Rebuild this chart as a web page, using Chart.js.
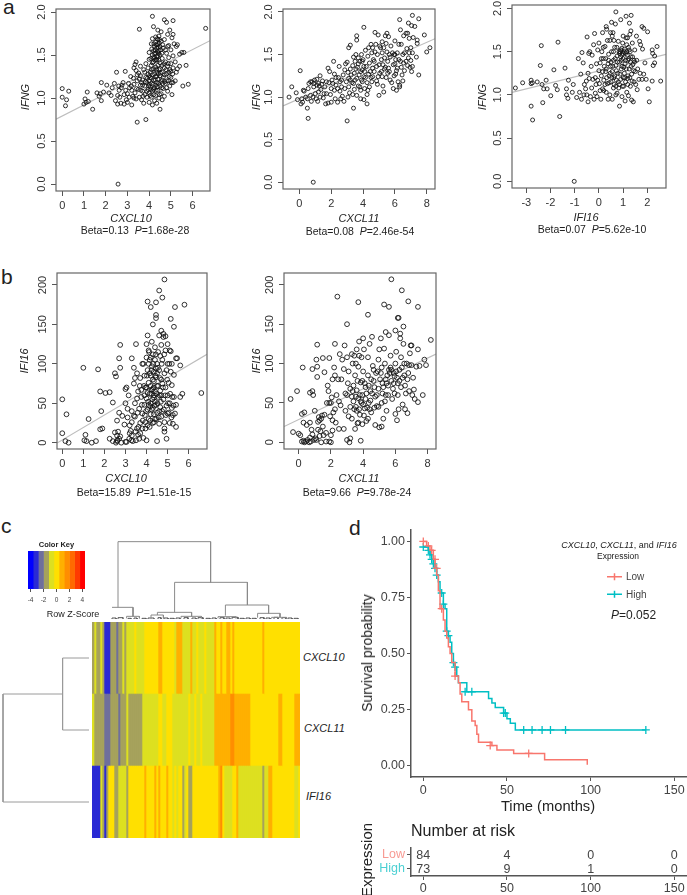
<!DOCTYPE html>
<html>
<head>
<meta charset="utf-8">
<title>CXCL10, CXCL11 and IFI16</title>
<script src="https://cdn.jsdelivr.net/npm/chart.js@4"></script>
<style>
  html, body { margin: 0; padding: 0; background: #fff; }
  #page { position: relative; width: 687px; height: 895px; overflow: hidden; background: #fff; font-family: "Liberation Sans", Arial, sans-serif; color: #222; filter: blur(0.35px); }
  #page canvas { position: absolute; }
  .lbl { position: absolute; white-space: pre; transform: translate(-50%, -50%); line-height: 1; }
  .rot { transform: translate(-50%, -50%) rotate(-90deg); }
  .left { transform: translate(0, -50%); }
</style>
</head>
<body>
<div id="page"></div>
<script>
// Panel a: IFNG against each gene
const ifngCxcl10 = [[0,1.11],[0,1.01],[.2,.98],[.15,.91],[.3,1.08],[1,.93],[1.05,.99],[1.1,.95],[1.15,1.07],[1.2,.96],[1.4,.87],[1.6,1.06],[1.7,1.02],[1.75,1.05],[1.8,.97],[1.8,1.18],[1.9,1.07],[2.05,1.15],[2.15,1.06],[2.25,1.03],[2.4,1.17],[2.45,.97],[2.5,1.3],[2.55,.93],[2.55,1.03],[2.57,0],[2.6,1.14],[2.65,1.01],[2.7,.94],[2.75,1.15],[2.85,.93],[2.9,1.31],[2.85,1.04],[2.8,1.18],[2.95,.98],[3,1.05],[3,.95],[3.05,1.17],[3.1,1.12],[3.2,.92],[3.3,1.35],[3.35,1.39],[3.4,1.42],[3.4,1.32],[3.45,.72],[3.55,1.8],[3.85,.75],[4.15,1.95],[4.7,1.91],[4.8,1.88],[5.1,1.9],[6.6,1.81],[5.55,1.14],[5.8,1.16],[5.7,1.38],[5.5,1.53],[5.6,1.53],[5.4,1.37],[5.4,1.51],
[3.3,1.16],[3.35,1.06],[3.4,.99],[3.45,1.2],[3.5,1.1],[3.55,1.01],[3.6,1.15],[3.6,1.26],[3.65,.98],[3.7,1.08],[3.7,1.21],[3.75,1.33],[3.75,.94],[3.8,1.14],[3.8,1.04],[3.85,1.24],[3.85,1.4],[3.9,1.18],[3.9,1.01],[3.95,1.1],[3.95,1.28],[3.95,1.35],[4,.95],[4,1.06],[4,1.2],[4,1.45],[4,1.53],[4.05,1.13],[4.05,1.3],[4.05,1.24],[4.1,1.01],[4.1,1.38],[4.1,1.63],[4.1,1.17],[4.15,.92],[4.15,1.08],[4.15,1.27],[4.15,1.5],[4.15,1.69],[4.2,1.83],[4.2,1.21],[4.2,1.34],[4.2,1.42],[4.2,1.55],[4.25,.97],[4.25,1.12],[4.25,1.6],[4.25,1.47],[4.3,1.03],[4.3,1.25],[4.3,1.36],[4.3,1.52],[4.3,1.65],[4.3,1.71],[4.35,.94],[4.35,1.18],[4.35,1.44],[4.35,1.58],[4.35,1.3],[4.4,1.09],[4.4,1.22],[4.4,1.49],[4.4,1.62],[4.4,1.68],[4.4,1.79],[4.45,1],[4.45,1.33],[4.45,1.55],[4.45,1.72],[4.5,.87],[4.5,1.14],[4.5,1.26],[4.5,1.41],[4.5,1.6],[4.5,1.5],[4.55,1.05],[4.55,1.19],[4.55,1.66],[4.55,1.77],[4.6,.98],[4.6,1.3],[4.6,1.38],[4.6,1.46],[4.65,1.11],[4.65,1.24],[4.65,1.58],[4.7,1.02],[4.7,1.35],[4.7,1.68],[4.75,1.17],[4.75,1.42],[4.8,1.28],[4.8,1.52],[4.85,1.08],[4.85,1.37],[4.85,1.74],[4.9,1.2],[4.9,1.47],[4.9,1.61],[4.95,1.14],[4.95,1.33],[4.95,1.79],[5,1.24],[5,1.4],[5,1.56],[5.05,1.04],[5.05,1.7],[5.1,1.18],[5.1,1.35],[5.1,1.49],[5.1,1.74],[5.15,1.63],[5.2,1.2],[5.2,1.42],[5.25,1.3],[5.25,1.6],[5.3,1.34],[5.3,1.62],[3.25,1.02],[3.15,1.25],[3.2,1.09],[3.3,1.0],[3.45,1.27],[3.6,1.37],[3.7,1.15],[4,1.16],[4.1,1.23],[4.2,1.1],[4.3,1.15],[4.4,1.38],[4.5,1.34],[4.6,1.21],[4.7,1.27],[4.8,1.12],[4.9,1.3],[5,1.31],[4.25,1.28],[4.15,1.41],[4.35,1.25],[4.45,1.44],[3.9,1.08],[4.05,1.03],[3.8,1.3],[3.65,1.18],[3.55,1.22],[4.28,1.56],[4.33,1.62],[4.38,1.54],[4.42,1.59],[4.27,1.44],[4.36,1.48],[4.46,1.64],[4.22,1.63],
[2.3,1.12],[2.62,1.09],[2.72,1.12],[2.92,1.09],[3.08,1.01],[3.18,1.14],[3.28,1.23],[3.42,1.11],[3.52,1.29],[3.62,1.09],[3.72,1.02],[3.82,1.19],[3.92,1.23],[3.98,1.14],[4.02,1.26],[4.08,1.1],[4.12,1.33],[4.18,1.16],[4.22,1.04],[4.28,1.21],[4.32,1.09],[4.34,1.33],[4.38,1.13],[4.42,1.28],[4.44,1.17],[4.48,1.04],[4.52,1.29],[4.58,1.12],[4.62,1.17],[4.68,1.4],[4.72,1.19],[4.78,1.33],[4.82,1.2],[4.88,1.4],[4.92,1.25],[5.02,1.18],[5.08,1.28],[4.18,1.47],[4.24,1.52],[4.32,1.45],[4.37,1.69],[4.43,1.52],[4.48,1.68],[4.53,1.56],[4.12,1.57],[4.08,1.46],[4.58,1.52],[4.62,1.62],[4.75,1.56],[4.85,1.6]];
const ifngCxcl11 = [[-.65,1],[-.48,1.12],[-.2,1.05],[.05,1.31],[-.12,.97],[.55,.75],[.5,.87],[3,.72],[.87,0],[3.4,.87],[4.25,.92],[4.05,1.82],[3.6,1.72],[3.6,1.67],[3.2,1.61],[3.1,1.58],[6.3,1.91],[7.1,1.96],[7.5,1.92],[6.85,1.87],[7.05,1.84],[7.25,1.83],[7.85,1.73],[8.2,1.58],[8,1.53],[7.5,1.26],[7.05,1.3],[7.35,1.47],[7.1,1.36],[7.4,1.67],[7.4,1.63],
[.1,.92],[.15,.98],[.2,.94],[.25,1.08],[.3,1.07],[.4,1],[.5,.98],[.6,1.16],[.7,1.02],[.7,1.18],[.75,.95],[.8,1.18],[.85,1],[.9,1.12],[.95,1.2],[1,1.04],[1.05,.98],[1.1,1.14],[1.1,1.21],[1.15,.95],[1.2,1.06],[1.25,1.13],[1.3,1.25],[1.35,1.09],[1.4,1.15],[1.5,.99],[1.55,1.04],[1.6,1.12],[1.65,.92],[1.8,.93],[1.85,1.17],[1.8,1.34],[1.9,1.3],[1.95,1.03],[2,1.1],[2,.94],[2.05,1.2],[2.15,1.42],[2.2,1.27],[2.2,1.08],[2.25,.98],[2.3,1.23],[2.3,1.14],[2.4,.94],[2.5,1.36],[2.55,1.18],[2.55,1.07],[2.65,1.12],[2.7,1.01],[2.75,1.26],[2.8,.95],[2.9,1.39],[2.95,1.18],[3,1.41],[3.05,1.29],[3.05,1],[3.15,1.05],[3.2,1.2],[3.2,1.33],[3.3,1.17],[3.35,1.37],[3.4,1.47],[3.45,1.28],[3.45,1.09],[3.5,1.42],[3.55,1.5],[3.6,1.22],[3.6,1.02],[3.65,1.35],[3.7,1.46],[3.7,1.13],[3.75,1.26],[3.8,1.42],[3.85,1.08],[3.85,.98],[3.9,1.5],[3.95,1.18],[3.95,1.32],[4,1.44],[4.05,1.24],[4.05,.97],[4.1,1.1],[4.15,1.55],[4.2,1.36],[4.25,1.03],[4.25,1.17],[4.3,1.48],[4.35,1.58],[4.35,1.27],[4.4,1.4],[4.5,1.62],[4.5,1.23],[4.55,1.52],[4.6,1.34],[4.65,1.44],[4.75,1.76],[4.8,1.62],[4.85,1.19],[4.9,1.5],[4.95,1.73],[5,1.38],[5,1.02],[5.05,1.28],[5.1,1.58],[5.15,1.44],[5.2,1.65],[5.25,1.13],[5.3,1.06],[5.35,1.33],[5.4,1.72],[5.45,1.23],[5.5,1.53],[5.55,1.42],[5.6,1.71],[5.65,1.3],[5.75,1.6],[5.8,1.17],[5.9,1.1],[5.95,1.5],[6,1.39],[6,1.66],[6.05,1.27],[6.15,1.52],[6.2,1.18],[6.25,1.44],[6.3,1.12],[6.35,1.79],[6.4,1.35],[6.4,1.62],[6.5,1.19],[6.5,1.5],[6.55,1.72],[6.6,1.31],[6.7,1.42],[6.75,1.57],[6.8,1.75],[6.85,1.46],[6.9,1.69],[6.95,1.35],[7,1.58],[7.1,1.52],[7.15,1.7],[6.1,1.08],[6.3,1.14],[5.5,1.75],[5.2,1.52],[4.7,1.3],[4.4,1.12],[3.1,1.22],[2.85,1.1],[2.1,1.16],[1.7,1.18],[1.3,1],[4.9,1.15],[5.7,1.47],[5.9,1.38],[6.1,1.31],[3.9,1.2],[4.1,1.3],[4.6,1.24],[5.2,1.24],[5.4,1.35],[5.6,1.34],[6,1.5],[3.7,1.39],[3.4,1.16],[2.6,.98],[2.4,1.1],
[.55,1.1],[.9,1.16],[1.2,1.16],[1.45,1.19],[1.7,1.04],[2.45,1.23],[2.65,1.2],[2.85,1.32],[3.1,1.12],[3.25,1.26],[3.35,1.03],[3.5,1.2],[3.55,1.33],[3.8,1.12],[3.85,1.3],[3.95,1.42],[4.05,1.36],[4.15,1.23],[4.3,1.08],[4.45,1.3],[4.55,1.18],[4.6,1.58],[4.7,1.42],[4.75,1.53],[4.85,1.36],[4.95,1.24],[5.05,1.6],[5.15,1.3],[5.25,1.38],[5.3,1.58],[5.35,1.46],[5.45,1.63],[5.55,1.28],[5.65,1.5],[5.7,1.2],[5.85,1.52],[5.95,1.25],[6.05,1.44],[6.15,1.34],[6.25,1.62],[6.35,1.42],[6.45,1.26],[6.55,1.4],[6.6,1.52],[6.7,1.75],[6.8,1.37],[6.9,1.52],[7,1.43]];
const ifngIfi16 = [[-3.45,1.08],[-3.15,1.14],[-2.8,1.17],[-2.8,1.13],[-2.75,1.14],[-2.55,1.15],[-2.8,.87],[-2.74,.71],[-2.32,.91],[-2.38,1.57],[-2.42,1.34],[-1.69,1.61],[-1.86,1.29],[-1.4,1.31],[-1.62,.75],[-1.02,0],[-1.79,1.11],[-1.72,1.06],[-1.99,.99],[-2.18,1.17],[-2.14,1.07],[-2.28,1.07],[-2.35,1.12],[-1.26,1.17],[-1.34,1.07],[-1.06,1.12],[-1.34,1],[-1.28,.96],[-1.1,1.03],[-.92,.97],[-.49,1.67],[-.18,1.71],[.7,1.96],[1.12,1.91],[1.33,1.92],[.9,1.87],[1.26,1.83],[1.78,1.79],[1.85,1.77],[2.01,1.73],[2.4,1.56],[2.55,1.16],[2.2,1.16],[2.08,.92],[2.03,1.07],[2.3,1.37],[2.24,1.34],[2.2,1.52],[2.22,1.48],[2.3,1.45],
[-.85,1.42],[-.8,1.03],[-.75,1.24],[-.72,.95],[-.7,1.49],[-.65,1.37],[-.6,1.12],[-.55,1.07],[-.5,1],[-.45,.92],[-.45,1.25],[-.42,1.48],[-.4,1.19],[-.38,1.5],[-.32,1.33],[-.3,1.08],[-.28,1.46],[-.22,1.58],[-.2,.95],[-.15,1.2],[-.12,1.12],[-.1,1.36],[-.08,.98],[-.05,1.52],[0,1.6],[0,1.28],[.02,1.13],[.05,1.37],[.08,.95],[.1,1.22],[.12,1.5],[.15,1.72],[.15,1.07],[.18,1.42],[.2,1.17],[.22,1.33],[.25,1.56],[.28,1.27],[.3,1.03],[.32,1.76],[.3,1.79],[.35,1.13],[.35,1.63],[.38,.95],[.4,1.4],[.42,1.22],[.45,1],[.45,1.63],[.48,1.33],[.5,1.15],[.52,1.5],[.52,1.84],[.55,.95],[.55,1.27],[.58,1.72],[.6,1.4],[.6,1.08],[.62,1.2],[.65,1.55],[.68,1.82],[.7,1],[.7,1.34],[.72,1.17],[.75,1.45],[.78,1.25],[.8,1.62],[.82,1.08],[.85,1.38],[.85,.87],[.88,1.5],[.9,1.18],[.92,1.3],[.95,.98],[.95,1.54],[.98,1.6],[1,1.68],[1,1.42],[1.02,1.1],[1.05,1.25],[1.08,1.36],[1.08,.93],[1.1,1.48],[1.12,1.66],[1.15,1.03],[1.15,1.58],[1.18,1.19],[1.2,1.4],[1.22,.99],[1.25,1.3],[1.25,1.52],[1.28,1.7],[1.3,1.1],[1.32,1.44],[1.35,.94],[1.35,1.24],[1.38,1.6],[1.4,1.35],[1.42,.92],[1.45,1.15],[1.48,1.52],[1.5,1.27],[1.55,1.68],[1.58,1.06],[1.6,1.3],[1.65,1.18],[1.68,1.62],[1.7,1.25],[1.72,1.58],[1.78,1.18],[1.8,1.53],[1.85,1.24],[1.9,1.37],[1.95,1.18],[.5,1.38],[.7,1.1],[.3,1.3],[.1,1.42],[1.1,1.15],[1.3,1.38],[.9,1.44],[.65,1.22],[1.05,1.5],[.4,1.47],[.2,1.05],[-.05,1.17],[.85,1.12],[1.2,1.22],[.6,1.5],[1,1.2],[.95,1.33],[.75,1.02],[1.45,1.4],[-.25,1.18],[-.52,1.16],[-.62,1.0],[-.35,.98],
[.15,1.27],[.25,1.12],[.32,1.2],[.38,1.36],[.42,1.14],[.47,1.25],[.53,1.2],[.57,1.33],[.63,1.12],[.67,1.42],[.72,1.28],[.77,1.38],[.8,1.15],[.83,1.5],[.87,1.24],[.93,1.4],[.97,1.1],[.99,1.48],[1.03,1.32],[1.07,1.2],[1.1,1.4],[1.13,1.3],[1.17,1.46],[1.19,1.12],[1.23,1.42],[1.27,1.2],[1.29,1.5],[1.33,1.33],[1.37,1.16],[1.39,1.44],[1.43,1.28],[1.47,1.38],[1.52,1.12],[1.56,1.4],[.9,1.52],[.85,1.48],[.95,1.46],[1.05,1.53],[1.15,1.5],[1.22,1.55],[.62,1.63],[.74,1.55],[.48,1.72],[.55,1.68],[1.32,1.74],[1.18,1.66],[.05,1.05],[-.15,1.02],[.28,1.42],[.18,1.55]];

// Panel b: IFI16 against CXCL10 / CXCL11
const ifi16Cxcl10 = [[0,55],[0,12],[.2,36],[.15,2],[.3,0],[1,95],[1.05,3],[1.1,10],[1.15,2],[1.25,30],[1.4,0],[1.6,2],[1.7,93],[1.8,65],[1.85,40],[1.8,17],[1.9,18],[2.05,63],[2.25,5],[2.25,64],[2.4,2],[2.4,51],[2.5,88],[2.55,84],[2.6,28],[2.55,0],[2.6,9],[2.65,14],[2.7,38],[2.7,107],[2.75,124],[2.75,95],[2.8,0],[3,68],[3,50],[3.05,70],[3.15,60],[3.5,125],[3.3,107],[3.4,95],[4.05,179],[4.2,172],[4.45,178],[4.6,193],[4.75,184],[4.85,207],[4.7,142],[4.45,162],[4.45,158],[4.3,150],[4.05,136],[5.35,172],[5.8,175],[5.15,157],[5.3,147],[5,125],[6.6,63],[5.7,62],[5.6,58],[5.6,98],[5.45,107],[5.4,20],
[2.5,13],[2.6,2],[2.7,5],[2.85,34],[2.95,23],[3,1],[3.05,1],[3.1,32],[3.1,43],[3.2,22],[3.2,12],[3.25,15],[3.3,9],[3.3,26],[3.35,2],[3.4,75],[3.45,50],[3.45,33],[3.45,82],[3.5,3],[3.55,88],[3.55,18],[3.6,65],[3.6,10],[3.65,5],[3.65,43],[3.7,25],[3.7,82],[3.75,67],[3.75,58],[3.8,18],[3.8,37],[3.85,6],[3.85,100],[3.9,85],[3.9,48],[3.95,26],[3.95,70],[4,108],[4,125],[4,3],[4,56],[4.05,42],[4.05,92],[4.1,30],[4.1,76],[4.1,117],[4.15,62],[4.15,105],[4.15,20],[4.2,50],[4.2,85],[4.2,36],[4.25,128],[4.25,97],[4.25,67],[4.3,25],[4.3,44],[4.3,112],[4.35,78],[4.35,57],[4.35,90],[4.4,30],[4.4,65],[4.4,105],[4.4,121],[4.45,48],[4.45,83],[4.5,2],[4.5,38],[4.5,72],[4.5,100],[4.55,58],[4.55,115],[4.6,24],[4.6,92],[4.6,136],[4.65,45],[4.65,66],[4.7,80],[4.7,124],[4.7,33],[4.75,105],[4.8,55],[4.8,134],[4.85,26],[4.85,14],[4.85,18],[4.85,88],[4.9,70],[4.9,117],[4.95,5],[4.95,47],[5,100],[5,37],[5,60],[5.05,76],[5.1,50],[5.1,25],[5.1,117],[5.15,90],[5.2,73],[5.2,44],[5.25,35],[5.25,24],[5.3,86],[5.3,58],[5.35,37],[5.4,107],[5.4,48],[5.2,100],[5.15,116],[4.9,135],[4.8,138],[3.55,56],[3.8,100],[4.1,100],[4.3,68],[4.2,72],[4.35,60],[4.25,42],[4.4,52],[4.5,88],[4.15,88],[4,70],[4.6,40],[4.7,60],[4.65,110],[4.45,94],[4.3,80],[4.1,48],[3.9,60],[4.2,108],[4.05,63],[4.35,36],[4.55,72],[4.75,75],[4.95,92],[5.05,38],[3.7,12],[3.95,18],[3.4,34],[3.3,40],
[3.62,20],[3.82,28],[3.88,72],[3.98,40],[4.02,85],[4.08,52],[4.12,115],[4.18,28],[4.22,62],[4.24,92],[4.28,55],[4.32,100],[4.34,70],[4.38,47],[4.42,85],[4.44,112],[4.46,30],[4.48,62],[4.52,50],[4.54,95],[4.58,32],[4.62,60],[4.64,82],[4.68,52],[4.72,100],[4.74,40],[4.78,70],[4.82,42],[4.84,112],[4.88,60],[4.92,35],[4.98,80],[5.02,50],[5.08,100],[5.12,62],[5.18,32],[5.22,58],[5.28,47],[3.68,72],[3.78,48],[3.92,35],[4.05,22],[4.18,46],[4.35,26],[3.58,38],[3.48,14],[3.18,5],[3.28,3],[2.75,8],[2.62,3]];
const ifi16Cxcl11 = [[-.5,55],[-.1,65],[-.35,13],[0,11],[.1,9],[.2,36],[.25,95],[.3,25],[.35,38],[.5,22],[.7,63],[.85,65],[.9,60],[.85,93],[1.1,105],[1.15,96],[1.15,83],[1.15,124],[1.5,107],[1.9,107],[2.4,185],[3.7,178],[4.3,162],[3,150],[5.3,175],[5.6,172],[5.75,207],[6.4,193],[6.8,179],[7.4,172],[6.2,158],[6.15,158],[5.4,140],[5.6,136],[6,142],[6.5,147],[6.3,138],[7,123],[8.2,130],[7.9,98],[7.8,105],[7.4,118],[7.3,96],[7.5,97],[7.4,51],[7.7,60],
[.2,1],[.3,2],[.35,0],[.45,1],[.55,3],[.65,0],[.7,6],[.75,1],[.8,16],[.85,10],[.95,3],[1,40],[1.05,5],[1.1,3],[1.2,26],[1.25,32],[1.3,8],[1.35,14],[1.4,0],[1.45,34],[1.5,20],[1.55,9],[1.6,89],[1.7,1],[1.75,50],[1.8,72],[1.85,65],[1.9,1],[2,0],[2,9],[2,50],[2.05,57],[2.1,28],[2.1,15],[2.15,38],[2.2,95],[2.25,85],[2.25,125],[2.35,60],[2.45,80],[2.5,17],[2.55,112],[2.6,47],[2.7,105],[2.8,17],[2.8,93],[2.85,123],[2.9,40],[3,3],[3,60],[3,108],[3.05,75],[3.1,33],[3.15,0],[3.2,5],[3.2,68],[3.3,30],[3.35,100],[3.4,52],[3.45,110],[3.5,85],[3.55,45],[3.6,118],[3.6,66],[3.65,24],[3.7,96],[3.7,56],[3.75,128],[3.8,35],[3.85,2],[3.85,76],[3.9,108],[3.95,23],[3.95,60],[4,132],[4,90],[4.1,43],[4.15,70],[4.2,27],[4.3,108],[4.3,85],[4.35,50],[4.4,125],[4.45,65],[4.5,38],[4.55,134],[4.6,97],[4.65,78],[4.7,44],[4.75,22],[4.85,60],[4.9,90],[4.95,105],[5,118],[5,19],[5.1,132],[5.15,20],[5.15,50],[5.2,75],[5.25,30],[5.3,119],[5.35,100],[5.4,60],[5.45,40],[5.5,85],[5.55,72],[5.6,92],[5.7,110],[5.75,78],[5.8,55],[5.9,88],[5.95,62],[6,100],[6,36],[6.05,115],[6.1,28],[6.15,75],[6.2,42],[6.25,92],[6.3,132],[6.35,108],[6.45,48],[6.5,125],[6.55,85],[6.6,42],[6.7,100],[6.75,37],[6.8,88],[6.85,65],[6.95,123],[7,98],[7.05,60],[7.1,82],[7.15,67],[7.2,55],[6.9,113],[6.6,72],[3.6,40],[3.8,60],[4,48],[4.2,62],[4.5,80],[4.4,42],[3.4,72],[3.2,45],[4.7,70],[5.1,88],[5.2,62],[5.4,80],[5.9,75],[3.9,50],[3.3,58],[3.7,25],[4.1,75],[4.3,30],[4.8,88],[2.3,25],[1.9,50],[1.6,35],[1.3,28],[.7,25],[5.7,95],[6.1,82],[6.4,95],[4.95,45],[3.5,17],
[3.35,65],[3.45,42],[3.55,58],[3.65,78],[3.75,42],[3.85,52],[3.95,78],[4.05,34],[4.15,55],[4.25,44],[4.35,72],[4.45,53],[4.55,62],[4.65,92],[4.75,58],[4.85,46],[4.95,68],[5.05,80],[5.15,95],[5.25,70],[5.35,52],[5.45,75],[5.55,60],[5.65,88],[5.75,92],[5.85,68],[5.95,84],[6.05,90],[6.15,60],[6.25,78],[6.35,70],[6.45,82],[6.55,100],[6.65,62],[6.75,80],[6.85,98],[2.9,62],[2.65,80],[2.5,52],[2.25,42],[2.1,80],[1.95,33],[1.7,12],[1.4,30],[1.2,16],[3.1,90],[3.3,112],[3.55,100],[3.75,110],[4.05,118]];

const ticksCxcl10 = [0, 1, 2, 3, 4, 5, 6];
const ticksCxcl11 = [0, 2, 4, 6, 8];
const ticksIfi16 = [-3, -2, -1, 0, 1, 2];
const ticksIfng = [0, 0.5, 1, 1.5, 2];
const ticksIfi16Y = [0, 50, 100, 150, 200];

// regression lines, value at each end of the x range
const fitA1 = [[-0.286, 0.754], [6.8, 1.667]];
const fitA2 = [[-1.03, 0.896], [8.52, 1.686]];
const fitA3 = [[-3.59, 1.03], [2.77, 1.468]];
const fitB1 = [[-0.25, -0.5], [6.87, 112]];
const fitB2 = [[-0.91, 20], [8.52, 112]];

// Panel c: z-scores per sample column
const geneRows = ['CXCL10', 'CXCL11', 'IFI16'];
const zCxcl10 = [-1.6,-0.8,-1.6,-1.6,-0.8,-1.6,-3.2,-3.2,-3.2,-1.6,
  -1.6,-1.6,-2.4,-1.6,-1.6,-0.8,-1.6,-0.8,-0.8,-0.8,
  -0.8,0,-0.8,-0.8,-0.8,-0.8,0,0,0,0,
  0,0,0,0.8,0.8,0,0,0,0,0,
  0,-0.8,0.8,0.8,0.8,-0.8,-0.8,-0.8,-0.8,0.8,
  -0.8,-0.8,0,-0.8,-0.8,-0.8,0,-0.8,-0.8,-0.8,
  -0.8,0.8,0,0,0.8,0,0,0.8,0.8,0,
  0.8,0,0,0,0,0,0,0,0,0,
  0,0,0,0,0,0.8,0,0,0,0,
  0,0,0,0,0,0,0,0,0,0,
  0,0,0,0];
const zCxcl11 = [-0.8,-1.6,-1.6,-1.6,-1.6,-1.6,-2.4,-2.4,-2.4,-1.6,
  -1.6,-1.6,-1.6,-2.4,-1.6,-1.6,-1.6,-0.8,-1.6,-1.6,
  -1.6,-1.6,-1.6,-1.6,-1.6,-0.8,-0.8,-0.8,-0.8,-0.8,
  -0.8,-0.8,-0.8,0,0,-0.8,-0.8,0,0,0,
  -0.8,-0.8,-0.8,-0.8,-0.8,-0.8,-0.8,-0.8,0,-0.8,
  -0.8,0,-0.8,-0.8,0,-0.8,-0.8,-0.8,-0.8,-0.8,
  -0.8,0.8,0.8,0.8,0.8,0.8,0.8,0.8,0.8,1.6,
  1.6,0.8,0.8,0.8,0.8,0.8,0.8,0.8,0.8,0,
  0,0,0,0,0,0,0,0,0,0,
  0,0,0,0.8,0.8,0,0,0,0,0,
  0,0.8,0.8,0.8];
const zIfi16 = [-3.2,-3.2,-3.2,-3.2,-0.8,-1.6,-3.2,-1.6,0,0,
  0,-1.6,-1.6,-0.8,-0.8,-0.8,-0.8,-1.6,0,0,
  0,0,0,0,0,0,0.8,0,0,0,
  0,0.8,0,0.8,0,0,0,0.8,0,0,
  -0.8,0,-0.8,0,0,-1.6,-0.8,0,-1.6,-1.6,
  0,0,0,0,0,0,0,0,0,0,
  0,0,0,0.8,1.6,0,-0.8,-0.8,-0.8,-0.8,
  0,0,0.8,-0.8,-0.8,-0.8,-0.8,-0.8,-0.8,-0.8,
  -0.8,-0.8,-0.8,-0.8,-0.8,-1.6,-0.8,-0.8,0.8,0.8,
  0,0,0,0,0,0,0,0,0,0,
  0,-0.8,-0.8,0];

const keyBreaks = [-4.4, -3.6, -2.8, -2, -1.2, -0.4, 0.4, 1.2, 2, 2.8, 3.6, 4.4];
const keyColors = ['#0000ff', '#2a2ad4', '#6f6f9c', '#a6a25c', '#dde020', '#ffe000', '#ffb000', '#ff8e00', '#ff6a00', '#ff3a00', '#ff0000'];
const keyTicks = [-4, -2, 0, 2, 4];

// dendrograms: [left leaf, right leaf, bar height, left foot, right foot]
const treeTop = [[13,59.3,232,35,110],[10,20.5,35,35,8],[41.3,77.7,110,20,42],[32.7,49.8,20,12,8],[66.7,88.3,42,10,17],[82.8,94,17,4,6],
  [29.5,35.7,12,1,2],[44.5,54.7,8,2,2],[17.3,23.7,8,2,2],[63,72,7,2,2],[89.8,97.3,5,1,2],
  [10,12,3,0,0],[13,15.5,4,0,1],[18,19.5,2,0,0],[21,22.5,3,0,0],[25,27,2,0,0],[28,31,3,0,1],[33,34.5,4,0,0],[36,38,3,0,0],[39,41,2,0,0],[42,44,3,0,0],[46,48,4,0,0],[50,52,3,0,0],[53,55.5,4,0,0],[57,59,2,0,0],[60,62,3,0,0],[64,66,4,0,0],[67,69,3,0,1],[70,73,5,0,0],[74,76,2,0,0],[77,79,3,0,0],[80,82,2,0,0],[84,86,4,0,0],[87,89,3,0,0],[91,93,5,0,0],[95,97,4,0,0],[98,100,3,0,0],[101,103,2,0,0]];
const treeLeft = [[0.5,1.5,26.4,0,0],[1,2.5,86,26.4,0]];

// Panel d: survival curves
const kmLow = [[0,1],[2,.98],[4,.96],[6,.92],[7,.88],[8,.85],[9,.78],[10,.7],[12,.65],[13,.6],[14,.57],[15,.53],[16,.5],[17,.46],[19,.4],[21,.37],[22,.32],[23,.285],[27,.25],[29,.2],[31,.18],[32,.14],[33,.105],[41,.09],[44,.07],[54,.055],[72.5,.027],[98,.005]];
const kmHigh = [[0,.975],[3,.96],[4,.94],[5,.92],[6,.9],[7,.88],[8,.85],[9,.82],[10,.77],[12,.72],[13,.7],[14,.6],[15,.58],[16,.55],[17,.5],[18,.46],[19,.44],[20,.4],[21,.37],[26,.33],[39,.3],[41,.28],[43,.26],[48,.235],[50,.21],[52,.19],[55,.16],[133,.16]];
const censorLow = [[0,1],[3,.98],[5,.96],[7,.92],[8,.88],[11,.7],[19,.4],[40,.09],[63,.055]];
const censorHigh = [[0,.975],[3,.96],[4,.94],[5,.92],[6,.9],[7,.88],[8,.85],[11,.77],[12,.72],[14,.6],[15,.58],[18,.46],[19,.44],[25,.33],[29,.33],[48,.235],[49,.235],[60,.16],[65,.16],[71,.16],[76,.16],[85,.16],[133,.16]];
const kmXTicks = [0, 50, 100, 150];
const kmYTicks = [0, 0.25, 0.5, 0.75, 1];
const riskGroups = ['Low', 'High'];
const riskLow = [84, 4, 0, 0];
const riskHigh = [73, 9, 1, 0];

const LOW = '#F8766D', HIGH = '#00BFC4';
Chart.defaults.font.family = '"Liberation Sans", Arial, sans-serif';
Chart.defaults.animation = false;
Chart.defaults.responsive = false;
Chart.defaults.plugins.legend.display = false;
Chart.defaults.plugins.tooltip.enabled = false;

const page = document.getElementById('page');

function addCanvas(left, top, w, h) {
    const c = document.createElement('canvas');
    c.width = w; c.height = h;
    c.style.left = left + 'px';
    c.style.top = top + 'px';
    page.appendChild(c);
    return c.getContext('2d');
}

function label(html, x, y, size, extra) {
    const d = document.createElement('div');
    d.className = 'lbl' + (extra && extra.cls ? ' ' + extra.cls : '');
    d.innerHTML = html;
    d.style.left = x + 'px';
    d.style.top = y + 'px';
    d.style.fontSize = size + 'px';
    if (extra && extra.color) d.style.color = extra.color;
    if (extra && extra.weight) d.style.fontWeight = extra.weight;
    page.appendChild(d);
}

const pts = arr => arr.map(p => ({ x: p[0], y: p[1] }));

// R style frame with rotated y labels
const baseFrame = {
    id: 'baseFrame',
    afterDraw(chart, args, opts) {
        const a = chart.chartArea, ctx = chart.ctx, y = chart.scales.y;
        ctx.save();
        ctx.strokeStyle = '#666';
        ctx.lineWidth = 1.2;
        ctx.strokeRect(a.left, a.top, a.right - a.left, a.bottom - a.top);
        ctx.fillStyle = '#333';
        ctx.font = '11px "Liberation Sans"';
        ctx.textAlign = 'center';
        ctx.textBaseline = 'middle';
        opts.labels.forEach(v => {
            ctx.save();
            ctx.translate(a.left - 14, y.getPixelForValue(v));
            ctx.rotate(-Math.PI / 2);
            ctx.fillText(opts.fmt(v), 0, 0);
            ctx.restore();
        });
        ctx.restore();
    }
};

function scatterPanel(box, xr, yr, xTicks, yTicks, fmt, data, fit, radius) {
    const padL = 40, padT = 8, padR = 8, padB = 24;
    const w = Math.round(box.r - box.l) + padL + padR;
    const h = Math.round(box.b - box.t) + padT + padB;
    const ctx = addCanvas(Math.round(box.l) - padL, Math.round(box.t) - padT, w, h);
    const tickGrid = { display: true, drawOnChartArea: false, drawTicks: true, tickLength: 5, color: '#555' };
    new Chart(ctx, {
        type: 'scatter',
        data: {
            datasets: [
                { data: pts(fit), type: 'line', borderColor: '#bdbdbd', borderWidth: 1.2, pointRadius: 0, order: 2 },
                { data: pts(data), pointRadius: radius, pointBackgroundColor: 'rgba(0,0,0,0)', pointBorderColor: 'rgba(15,15,15,0.85)', pointBorderWidth: 1, order: 1 }
            ]
        },
        options: {
            layout: { autoPadding: false, padding: { top: padT, right: padR, left: 0, bottom: 0 } },
            scales: {
                x: {
                    type: 'linear', min: xr[0], max: xr[1],
                    afterBuildTicks: s => { s.ticks = xTicks.map(v => ({ value: v })); },
                    afterFit: s => { s.height = padB; },
                    grid: tickGrid, border: { display: false },
                    ticks: { font: { size: 11 }, color: '#333', padding: 3, maxRotation: 0, callback: v => String(v) }
                },
                y: {
                    type: 'linear', min: yr[0], max: yr[1],
                    afterBuildTicks: s => { s.ticks = yTicks.map(v => ({ value: v })); },
                    afterFit: s => { s.width = padL; },
                    grid: tickGrid, border: { display: false },
                    ticks: { display: false }
                }
            },
            plugins: { baseFrame: { labels: yTicks, fmt: fmt } }
        },
        plugins: [baseFrame]
    });
}

const fmtIfng = v => v.toFixed(1);
const fmtIfi = v => String(v);

scatterPanel({ l: 55.5, r: 209, t: 9, b: 190.7 }, [-0.286, 6.8], [-0.08, 2.035], ticksCxcl10, ticksIfng, fmtIfng, ifngCxcl10, fitA1, 2);
scatterPanel({ l: 283.3, r: 435.3, t: 9, b: 189.3 }, [-1.03, 8.52], [-0.08, 2.035], ticksCxcl11, ticksIfng, fmtIfng, ifngCxcl11, fitA2, 2);
scatterPanel({ l: 511.7, r: 665.7, t: 5.3, b: 188.3 }, [-3.59, 2.77], [-0.077, 2.04], ticksIfi16, ticksIfng, fmtIfng, ifngIfi16, fitA3, 2);
scatterPanel({ l: 57, r: 207.3, t: 273.3, b: 449.3 }, [-0.25, 6.87], [-8, 215.2], ticksCxcl10, ticksIfi16Y, fmtIfi, ifi16Cxcl10, fitB1, 2.4);
scatterPanel({ l: 284.3, r: 436.3, t: 273.3, b: 449 }, [-0.91, 8.52], [-8.5, 215], ticksCxcl11, ticksIfi16Y, fmtIfi, ifi16Cxcl11, fitB2, 2.4);

label('a', 3, 6, 21, { cls: 'left' });
label('b', 1, 276, 21, { cls: 'left' });
label('c', 1, 525, 21, { cls: 'left' });
label('d', 349, 527, 21, { cls: 'left' });

label('<i>IFNG</i>', 25, 97, 11, { cls: 'rot' });
label('<i>CXCL10</i>', 131, 218, 11);
label('Beta=0.13  <i>P</i>=1.68e-28', 135, 230, 10.5);
label('<i>IFNG</i>', 256, 97, 11, { cls: 'rot' });
label('<i>CXCL11</i>', 359, 218, 11);
label('Beta=0.08  <i>P</i>=2.46e-54', 360, 231, 10.5);
label('<i>IFNG</i>', 482, 97, 11, { cls: 'rot' });
label('<i>IFI16</i>', 586, 217, 11);
label('Beta=0.07  <i>P</i>=5.62e-10', 592, 229, 10.5);
label('<i>IFI16</i>', 24, 361, 11, { cls: 'rot' });
label('<i>CXCL10</i>', 126, 478, 11);
label('Beta=15.89  <i>P</i>=1.51e-15', 134, 492, 10.5);
label('<i>IFI16</i>', 256, 361, 11, { cls: 'rot' });
label('<i>CXCL11</i>', 359, 478, 11);
label('Beta=9.66  <i>P</i>=9.78e-24', 357, 492, 10.5);

// heat map, one stacked bar per sample column
const palette = z => {
    for (let i = 0; i < keyColors.length; i++) {
        if (z < keyBreaks[i + 1]) return keyColors[i];
    }
    return keyColors[keyColors.length - 1];
};
const heatSets = zCxcl10.map((z, i) => ({
    data: geneRows.map(() => 1),
    backgroundColor: [palette(zCxcl10[i]), palette(zCxcl11[i]), palette(zIfi16[i])],
    borderWidth: 0,
    barPercentage: 1,
    categoryPercentage: 1,
    inflateAmount: 0.3
}));
new Chart(addCanvas(92, 622, 208, 216), {
    type: 'bar',
    data: { labels: geneRows, datasets: heatSets },
    options: {
        indexAxis: 'y',
        layout: { autoPadding: false },
        scales: {
            x: { stacked: true, display: false, min: 0, max: zCxcl10.length },
            y: { stacked: true, display: false }
        }
    }
});
label('<i>CXCL10</i>', 303, 657, 11, { cls: 'left' });
label('<i>CXCL11</i>', 304, 728, 11, { cls: 'left' });
label('<i>IFI16</i>', 306, 796, 11, { cls: 'left' });

// column dendrogram on top
const bracketSets = (tree, flip, col) => tree.map(t => {
    const line = [[t[0], t[3]], [t[0], t[2]], [t[1], t[2]], [t[1], t[4]]];
    return {
        data: line.map(p => flip ? { x: p[1], y: p[0] } : { x: p[0], y: p[1] }),
        borderColor: col,
        borderWidth: 1,
        pointRadius: 0
    };
});
const treeOpts = (xr, yr) => ({
    layout: { autoPadding: false },
    scales: {
        x: { type: 'linear', display: false, min: xr[0], max: xr[1], reverse: xr[2] },
        y: { type: 'linear', display: false, min: yr[0], max: yr[1], reverse: yr[2] }
    }
});
const topSets = bracketSets(treeTop, false, '#8a8a8a');
topSets.forEach((s, i) => { if (i > 10) s.borderColor = '#555'; });
new Chart(addCanvas(92, 535, 208, 84), {
    type: 'scatter',
    data: { datasets: topSets.map(s => Object.assign(s, { showLine: true })) },
    options: treeOpts([0, 104], [0, 252])
});
new Chart(addCanvas(0, 622, 89, 216), {
    type: 'scatter',
    data: { datasets: bracketSets(treeLeft, true, '#9a9a9a').map(s => Object.assign(s, { showLine: true })) },
    options: treeOpts([0, 89, true], [0, 3, true])
});

// colour key
const keySets = keyColors.map((c, i) => ({
    data: [[keyBreaks[i], keyBreaks[i + 1]]],
    backgroundColor: c,
    borderWidth: 0,
    grouped: false,
    barPercentage: 1,
    categoryPercentage: 1,
    inflateAmount: 0.3
}));
new Chart(addCanvas(18, 551, 78, 57), {
    type: 'bar',
    data: { labels: ['z'], datasets: keySets },
    options: {
        indexAxis: 'y',
        layout: { autoPadding: false, padding: { left: 10, right: 11, top: 0, bottom: 0 } },
        scales: {
            x: {
                type: 'linear', min: -4.4, max: 4.4,
                afterBuildTicks: s => { s.ticks = keyTicks.map(v => ({ value: v })); },
                afterFit: s => { s.height = 19; },
                grid: { display: true, drawOnChartArea: false, tickLength: 3, color: '#555' },
                border: { display: false },
                ticks: { font: { size: 6.5 }, color: '#444', padding: 4, maxRotation: 0 }
            },
            y: { display: false }
        }
    }
});
label('Color Key', 56.5, 545, 7.5, { weight: 'bold' });
label('Row Z-Score', 73, 614, 9);

// survival curves
const kmLegend = {
    id: 'kmLegend',
    afterDraw(chart) {
        const ctx = chart.ctx;
        [[LOW, 56.7], [HIGH, 74.3]].forEach(e => {
            ctx.save();
            ctx.strokeStyle = e[0];
            ctx.lineWidth = 1.5;
            ctx.beginPath();
            ctx.moveTo(257, e[1]); ctx.lineTo(272, e[1]);
            ctx.moveTo(264.5, e[1] - 3.5); ctx.lineTo(264.5, e[1] + 3.5);
            ctx.stroke();
            ctx.restore();
        });
    }
};
const axisGrid = { display: true, drawOnChartArea: false, tickLength: 4, color: '#555' };
new Chart(addCanvas(350, 520, 337, 280), {
    type: 'scatter',
    data: {
        datasets: [
            { data: pts(kmLow), showLine: true, stepped: true, borderColor: LOW, borderWidth: 1.5, pointRadius: 0 },
            { data: pts(kmHigh), showLine: true, stepped: true, borderColor: HIGH, borderWidth: 1.5, pointRadius: 0 },
            { data: pts(censorLow), pointStyle: 'cross', pointRadius: 4, pointBorderColor: LOW, pointBorderWidth: 1.3 },
            { data: pts(censorHigh), pointStyle: 'cross', pointRadius: 4, pointBorderColor: HIGH, pointBorderWidth: 1.3 }
        ]
    },
    options: {
        layout: { autoPadding: false, padding: { top: 8, right: 1, left: 0, bottom: 0 } },
        scales: {
            x: {
                type: 'linear', min: -7.35, max: 157,
                afterBuildTicks: s => { s.ticks = kmXTicks.map(v => ({ value: v })); },
                afterFit: s => { s.height = 23; },
                grid: axisGrid, border: { display: true, color: '#555', width: 1.5 },
                ticks: { font: { size: 12.5 }, color: '#444', padding: 2, maxRotation: 0, callback: v => String(v) }
            },
            y: {
                type: 'linear', min: -0.05, max: 1.053,
                afterBuildTicks: s => { s.ticks = kmYTicks.map(v => ({ value: v })); },
                afterFit: s => { s.width = 61; },
                grid: axisGrid, border: { display: true, color: '#555', width: 1.5 },
                ticks: { font: { size: 12.5 }, color: '#444', padding: 2, callback: v => v.toFixed(2) }
            }
        }
    },
    plugins: [kmLegend]
});
label('Survival probability', 367, 653, 14, { cls: 'rot' });
label('Time (months)', 548, 806, 14.7);
label('<i>CXCL10</i>, <i>CXCL11</i>, and <i>IFI16</i>', 619, 545, 9);
label('Expression', 618, 556, 8.5);
label('Low', 626, 577, 10, { cls: 'left', color: '#444' });
label('High', 626, 594.5, 10, { cls: 'left', color: '#444' });
label('<i>P</i>=0.052', 611, 615, 12, { cls: 'left' });

// number at risk table
const riskText = {
    id: 'riskText',
    afterDraw(chart) {
        const ctx = chart.ctx, x = chart.scales.x, y = chart.scales.y;
        ctx.save();
        ctx.font = '12.5px "Liberation Sans"';
        ctx.fillStyle = '#444';
        ctx.textAlign = 'center';
        ctx.textBaseline = 'middle';
        [riskLow, riskHigh].forEach((row, r) => {
            row.forEach((n, i) => {
                ctx.fillText(String(n), x.getPixelForValue(kmXTicks[i]), y.getPixelForValue(r) + 1);
            });
        });
        ctx.restore();
    }
};
new Chart(addCanvas(350, 838, 337, 57), {
    type: 'scatter',
    data: { labels: riskGroups, datasets: [{ data: [], pointRadius: 0 }] },
    options: {
        layout: { autoPadding: false, padding: { top: 5, right: 1, left: 0, bottom: 0 } },
        scales: {
            x: {
                type: 'linear', min: -7.35, max: 157,
                afterBuildTicks: s => { s.ticks = kmXTicks.map(v => ({ value: v })); },
                afterFit: s => { s.height = 19; },
                grid: axisGrid, border: { display: true, color: '#555', width: 1.5 },
                ticks: { font: { size: 12.5 }, color: '#444', padding: 1, maxRotation: 0, callback: v => String(v) }
            },
            y: {
                type: 'category', labels: riskGroups, offset: true,
                afterFit: s => { s.width = 61; },
                grid: axisGrid, border: { display: true, color: '#555', width: 1.5 },
                ticks: { font: { size: 12.5 }, padding: 2, autoSkip: false, color: c => c.index === 0 ? '#f79a93' : '#4cd0d3' }
            }
        }
    },
    plugins: [riskText]
});
label('Number at risk', 411, 831, 16, { cls: 'left' });
label('Expression', 366, 860, 15, { cls: 'rot' });
</script>
</body>
</html>
